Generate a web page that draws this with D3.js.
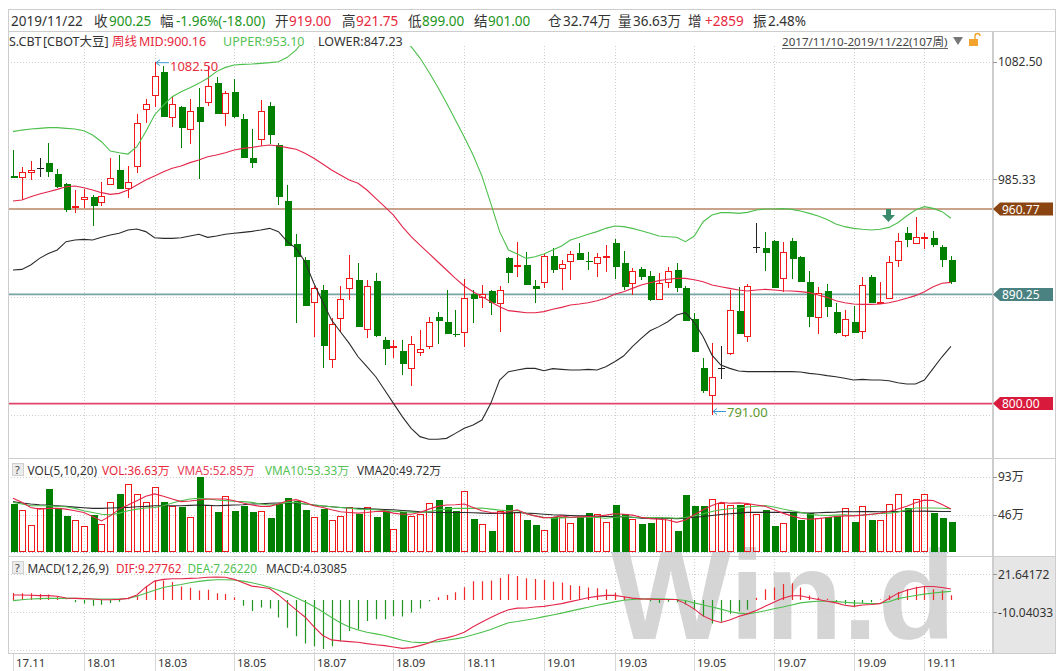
<!DOCTYPE html>
<html>
<head>
<meta charset="utf-8">
<script src="https://cdn.jsdelivr.net/npm/d3@7"></script>
<style>
body { margin: 0; background: #fff; }
svg { display: block; font-family: "Noto Sans", "Noto Sans CJK SC", sans-serif; }
</style>
</head>
<body>
<div id="chart"></div>
<script>
// weekly CBOT soybean bars, 2017/11/10 - 2019/11/22 (107 weeks)
const openPx = [
	988.3, 987.5, 991.1, 994.4, 998.5, 989.7, 981.4, 962.7, 968.8, 971.0,
	966.3, 981.4, 993.0, 977.9, 996.6, 1043.1, 1055.0, 1074.3, 1036.5, 1045.4,
	1026.9, 1045.4, 1049.5, 1065.2, 1039.8, 1057.7, 1035.2, 1002.7, 1018.3, 1045.9,
	1013.7, 967.4, 931.9, 918.7, 883.7, 893.9, 836.6, 870.4, 895.2, 902.1,
	861.4, 901.3, 852.5, 847.3, 843.5, 829.1, 842.9, 847.9, 871.3, 867.7,
	857.8, 859.4, 890.6, 887.8, 893.3, 883.4, 920.0, 913.7, 914.5, 897.2,
	900.7, 921.9, 911.7, 917.8, 924.7, 918.1, 916.4, 921.7, 932.4, 915.9,
	899.9, 910.9, 905.4, 886.2, 900.7, 910.4, 895.2, 869.6, 829.7, 807.1,
	829.7, 841.5, 876.5, 855.8, 929.7, 928.3, 934.6, 903.5, 934.6, 921.4,
	900.7, 871.8, 893.0, 876.0, 856.7, 867.1, 860.0, 904.9, 883.4, 887.0,
	918.6, 941.2, 932.4, 937.1, 936.5, 929.7, 919.0
];
const highPx = [
	1009.5, 995.8, 1000.4, 1002.7, 1015.0, 993.6, 982.0, 976.5, 977.0, 972.4,
	983.4, 1002.7, 1005.4, 996.3, 1039.3, 1051.4, 1082.5, 1078.9, 1054.1, 1045.9,
	1051.4, 1060.5, 1078.9, 1069.6, 1058.6, 1067.9, 1039.3, 1026.6, 1050.9, 1049.5,
	1015.0, 980.6, 940.1, 921.4, 897.0, 898.0, 870.4, 897.2, 922.8, 915.9,
	902.1, 907.6, 855.3, 852.5, 852.5, 856.1, 860.8, 871.3, 876.0, 893.9,
	877.3, 902.7, 893.9, 898.0, 893.9, 897.2, 921.4, 933.8, 925.5, 902.1,
	924.2, 928.3, 918.6, 926.4, 932.4, 925.5, 924.2, 931.0, 935.7, 926.1,
	911.8, 912.6, 909.8, 908.2, 913.2, 916.4, 897.2, 874.6, 837.4, 849.8,
	847.9, 893.9, 896.1, 898.8, 948.9, 942.1, 935.2, 933.3, 937.1, 922.0,
	909.8, 896.1, 898.5, 882.8, 877.3, 880.6, 904.9, 906.3, 900.7, 922.0,
	940.7, 946.2, 953.9, 941.2, 942.9, 931.0, 921.75
];
const lowPx = [
	986.1, 968.2, 984.7, 987.5, 987.5, 977.9, 958.6, 957.2, 961.3, 946.7,
	963.3, 981.4, 977.3, 969.6, 990.8, 1032.1, 1045.4, 1037.1, 1028.3, 1010.9,
	1014.2, 985.3, 1045.9, 1039.3, 1029.4, 1035.7, 1002.7, 994.4, 1012.8, 1014.5,
	964.1, 930.2, 866.9, 880.9, 855.3, 829.1, 829.1, 859.4, 885.6, 863.6,
	853.9, 855.3, 831.9, 837.4, 823.6, 814.8, 839.3, 845.1, 849.0, 857.2,
	854.7, 847.0, 866.9, 879.3, 873.2, 859.4, 899.4, 904.9, 898.0, 882.8,
	895.2, 907.6, 893.9, 902.1, 918.6, 910.4, 904.9, 909.0, 902.7, 893.9,
	889.7, 902.1, 885.0, 886.2, 895.2, 892.5, 868.5, 842.9, 809.0, 791.0,
	820.0, 840.2, 857.2, 850.6, 924.7, 909.8, 895.2, 892.5, 902.7, 900.2,
	863.0, 857.2, 871.8, 857.2, 854.7, 858.6, 853.1, 883.4, 883.4, 886.2,
	912.6, 929.7, 932.4, 927.5, 929.1, 912.6, 899.0
];
const closePx = [
	986.1, 991.1, 993.0, 994.4, 991.1, 978.7, 960.0, 963.5, 971.0, 963.5,
	971.5, 986.1, 977.3, 983.4, 1032.1, 1047.3, 1070.7, 1037.1, 1047.3, 1027.4,
	1042.0, 1032.4, 1062.7, 1039.3, 1056.9, 1037.1, 1002.7, 999.1, 1041.8, 1021.9,
	970.4, 930.2, 920.9, 880.9, 895.2, 847.6, 865.8, 886.1, 903.5, 863.6,
	897.2, 855.9, 845.1, 847.9, 832.4, 848.9, 844.8, 867.7, 868.5, 857.2,
	856.9, 887.0, 886.2, 890.3, 882.8, 893.9, 907.6, 914.5, 898.0, 894.7,
	921.9, 910.4, 915.3, 923.3, 918.6, 916.7, 920.9, 922.2, 913.2, 896.1,
	909.8, 904.9, 885.6, 899.9, 909.8, 895.2, 868.5, 842.9, 810.4, 822.2,
	829.7, 877.3, 857.2, 897.2, 929.7, 924.2, 895.8, 925.5, 919.2, 900.2,
	871.8, 891.1, 880.1, 858.0, 869.6, 858.6, 898.0, 883.4, 884.2, 917.3,
	934.6, 935.2, 937.9, 937.6, 931.0, 918.25, 900.25
];

// bollinger bands (20)
const bollMid = [
	967.4, 968.2, 970.9, 973.2, 975.1, 977.0, 979.2, 979.8, 978.4, 976.5,
	974.3, 972.9, 973.7, 976.5, 980.6, 984.7, 988.1, 991.6, 994.4, 996.3,
	999.1, 1001.3, 1004.0, 1005.4, 1007.3, 1009.5, 1010.9, 1011.7, 1012.8, 1013.7,
	1012.8, 1011.5, 1010.1, 1006.8, 1002.7, 998.0, 993.0, 988.9, 984.7, 982.0,
	976.5, 969.6, 962.7, 955.8, 946.2, 937.9, 931.0, 924.2, 917.2, 910.4,
	903.5, 897.2, 892.5, 888.4, 884.2, 880.1, 876.8, 876.0, 875.1, 875.1,
	876.0, 877.9, 879.5, 881.5, 882.3, 883.4, 885.0, 887.0, 890.3, 892.5,
	895.2, 898.0, 899.9, 901.6, 902.7, 903.5, 903.5, 902.4, 900.7, 898.0,
	896.6, 895.2, 893.9, 893.0, 893.9, 894.4, 893.9, 893.3, 893.0, 892.5,
	891.7, 889.7, 887.8, 885.0, 883.4, 882.3, 882.0, 882.0, 882.3, 883.4,
	885.0, 887.0, 889.2, 892.5, 896.6, 899.4, 900.16
];
const bollUpper = [
	1024.7, 1026.0, 1026.9, 1027.4, 1028.0, 1028.0, 1027.4, 1026.9, 1025.5, 1021.9,
	1016.4, 1008.7, 1007.3, 1006.2, 1012.3, 1024.7, 1038.5, 1046.7, 1053.6, 1057.7,
	1061.0, 1064.6, 1068.8, 1074.3, 1077.8, 1079.8, 1080.3, 1080.6, 1081.1, 1081.7,
	1082.5, 1086.1, 1092.2, 1102.0, 1110.0, 1118.0, 1124.0, 1128.0, 1130.0, 1130.0,
	1128.0, 1124.0, 1118.0, 1110.0, 1102.0, 1094.9, 1085.5, 1074.0, 1061.6, 1048.4,
	1034.3, 1020.3, 1005.4, 988.0, 965.5, 942.1, 926.9, 923.6, 920.0, 921.4,
	923.6, 926.9, 930.2, 935.2, 937.4, 939.9, 942.1, 944.8, 946.7, 946.2,
	944.8, 942.9, 940.7, 938.5, 937.9, 937.4, 933.8, 938.5, 950.3, 955.8,
	957.8, 957.8, 957.2, 958.0, 960.0, 960.8, 960.8, 961.1, 960.5, 959.1,
	957.2, 955.0, 952.2, 948.4, 946.2, 944.8, 944.0, 943.4, 944.0, 945.6,
	949.5, 955.0, 960.0, 962.7, 961.3, 958.6, 953.10
];
const bollLower = [
	910.4, 910.9, 914.5, 920.0, 924.1, 926.9, 933.8, 935.2, 935.7, 935.2,
	937.4, 939.3, 940.7, 943.4, 944.3, 942.1, 937.1, 936.5, 936.5, 937.1,
	938.5, 939.9, 937.4, 938.5, 939.9, 940.7, 941.5, 942.3, 943.4, 944.8,
	942.1, 933.8, 928.3, 917.3, 899.4, 884.2, 869.1, 859.4, 849.8, 838.7,
	830.5, 822.2, 811.2, 800.2, 789.2, 779.6, 772.7, 770.5, 770.5, 771.3,
	775.4, 779.6, 782.3, 786.4, 800.2, 819.5, 826.4, 827.8, 829.1, 829.1,
	827.2, 828.9, 828.3, 827.8, 827.8, 828.3, 827.8, 830.5, 834.6, 839.3,
	847.0, 853.9, 860.2, 863.6, 867.7, 873.2, 875.1, 867.0, 855.3, 840.1,
	831.9, 829.1, 826.9, 826.4, 826.4, 826.4, 826.4, 826.4, 826.4, 826.1,
	825.0, 824.2, 823.1, 822.2, 820.9, 819.5, 820.0, 819.5, 819.5, 818.9,
	817.3, 816.2, 816.2, 819.5, 829.1, 838.7, 847.23
];

// volume in 万 lots and its moving averages
const volume = [
	58.7, 51.6, 33.0, 53.7, 77.4, 53.7, 44.2, 39.2, 31.7, 45.4,
	34.2, 61.2, 71.1, 83.6, 71.5, 61.2, 79.8, 61.2, 57.0, 54.8,
	43.0, 92.7, 57.8, 49.4, 69.5, 50.6, 56.9, 49.4, 50.6, 42.2,
	59.0, 66.2, 62.4, 51.9, 43.0, 52.7, 39.3, 44.3, 54.8, 46.4,
	54.8, 43.0, 50.6, 28.3, 48.5, 44.3, 46.4, 59.9, 64.1, 55.7,
	50.6, 74.6, 40.9, 33.8, 25.4, 50.6, 57.8, 49.4, 39.2, 32.8,
	26.5, 43.5, 43.5, 35.0, 43.5, 47.7, 46.9, 36.2, 58.3, 46.9,
	40.1, 33.7, 35.0, 43.5, 41.3, 25.6, 69.8, 57.1, 57.1, 65.6,
	60.5, 58.3, 58.3, 59.2, 46.9, 51.1, 31.6, 35.8, 47.7, 39.2,
	47.7, 41.3, 43.5, 44.3, 54.1, 37.1, 57.1, 39.2, 39.2, 59.6,
	71.1, 54.1, 64.7, 71.1, 47.7, 41.3, 36.63
];
const vma5 = [
	66.2, 61.1, 54.8, 52.7, 53.6, 53.6, 52.7, 50.6, 48.5, 43.5,
	38.0, 44.3, 52.7, 57.8, 63.2, 68.7, 71.6, 68.7, 65.3, 62.0,
	62.8, 64.1, 65.3, 65.3, 65.3, 63.2, 60.3, 57.8, 56.1, 56.1,
	59.0, 63.2, 64.5, 61.1, 56.9, 54.8, 51.9, 49.4, 48.5, 47.7,
	48.5, 49.8, 50.2, 47.7, 46.4, 46.4, 48.5, 52.7, 56.1, 57.8,
	58.2, 59.0, 54.8, 50.6, 48.5, 47.7, 49.4, 51.9, 46.9, 44.3,
	41.8, 42.6, 44.3, 42.6, 43.0, 43.5, 43.9, 45.2, 46.9, 46.4,
	45.2, 42.6, 40.9, 40.1, 39.2, 36.2, 39.2, 45.6, 52.0, 57.1,
	61.3, 60.0, 60.5, 59.6, 57.9, 56.2, 52.0, 47.7, 44.3, 41.3,
	40.1, 40.9, 42.2, 43.5, 44.3, 44.3, 45.2, 46.4, 47.7, 49.8,
	52.8, 56.2, 60.5, 63.9, 63.4, 58.3, 52.85
];
const vma10 = [
	61.1, 59.0, 56.9, 56.9, 56.9, 56.1, 55.7, 53.6, 50.6, 48.5,
	46.4, 45.6, 47.7, 50.6, 52.7, 54.0, 54.8, 56.9, 60.3, 63.2,
	65.3, 66.2, 65.3, 64.1, 63.2, 62.4, 62.0, 61.1, 59.0, 57.8,
	59.0, 61.1, 61.1, 59.0, 57.8, 56.9, 55.7, 54.8, 54.0, 52.7,
	52.3, 51.9, 51.0, 50.2, 49.4, 48.9, 48.5, 49.4, 51.5, 52.7,
	53.6, 53.6, 53.6, 54.0, 52.7, 51.5, 50.6, 51.0, 46.9, 44.3,
	42.6, 41.3, 41.8, 42.2, 42.6, 42.6, 42.2, 41.3, 42.6, 43.5,
	42.6, 42.2, 42.2, 42.2, 41.8, 41.3, 42.2, 44.3, 46.9, 49.8,
	52.0, 53.2, 54.1, 55.4, 56.2, 57.1, 55.4, 52.8, 50.7, 48.6,
	46.4, 45.2, 44.7, 45.2, 45.6, 44.7, 45.2, 46.4, 47.3, 47.7,
	49.0, 52.0, 54.1, 54.1, 54.1, 53.7, 53.33
];
const vma20 = [
	62.0, 60.3, 59.0, 58.2, 57.8, 56.9, 56.1, 55.2, 54.4, 53.6,
	53.6, 54.0, 54.4, 54.8, 55.7, 56.1, 56.9, 56.9, 56.9, 56.9,
	57.3, 57.8, 57.3, 56.9, 57.3, 57.8, 58.2, 59.0, 59.4, 59.9,
	60.3, 60.3, 60.3, 59.0, 57.8, 56.5, 55.7, 54.8, 54.0, 53.6,
	53.1, 52.7, 52.3, 51.9, 51.0, 50.2, 49.4, 48.9, 48.5, 48.5,
	48.5, 48.5, 48.1, 47.7, 47.3, 47.3, 47.7, 48.5, 47.7, 47.3,
	46.4, 45.6, 45.2, 44.7, 44.3, 44.3, 43.9, 43.5, 43.5, 43.0,
	42.6, 41.3, 41.3, 41.3, 41.3, 40.9, 41.3, 42.6, 43.5, 44.7,
	46.0, 46.9, 47.7, 48.6, 48.6, 48.6, 48.6, 48.6, 48.6, 48.1,
	47.7, 48.1, 48.6, 49.0, 49.8, 49.4, 49.8, 49.6, 49.4, 49.6,
	49.8, 50.0, 50.0, 50.2, 49.9, 49.8, 49.72
];

// MACD(12,26,9)
const dif = [
	4.3, 4.3, 4.0, 3.7, 3.7, 3.2, 1.7, 1.4, 1.2, 0.9,
	0.3, 0.3, 0.6, 1.4, 4.3, 10.8, 15.9, 17.4, 17.9, 17.9,
	18.2, 18.5, 19.1, 19.4, 19.1, 17.4, 14.5, 11.7, 10.8, 9.7,
	4.3, -1.9, -8.2, -14.2, -22.4, -29.8, -33.5, -34.3, -34.9, -35.5,
	-36.6, -37.5, -38.3, -39.5, -40.6, -40.0, -38.3, -36.1, -33.2, -31.8,
	-29.8, -27.0, -22.4, -18.4, -14.7, -11.0, -8.2, -6.8, -6.7, -5.9,
	-5.3, -4.1, -3.0, -1.3, 0.2, 1.9, 3.1, 3.9, 3.9, 2.8,
	1.6, 1.0, 0.8, 0.5, 0.5, 0.5, -3.0, -7.6, -13.3, -16.8,
	-18.8, -16.8, -13.9, -11.6, -8.7, -5.3, -1.8, 1.6, 3.6, 3.6,
	1.9, 0.5, -1.0, -2.4, -4.4, -5.3, -4.1, -3.8, -3.0, 1.3,
	5.6, 8.2, 10.2, 11.4, 11.4, 10.5, 9.27762
];
const dea = [
	-0.5, 0.3, 0.9, 1.2, 1.4, 1.4, 1.4, 1.4, 1.2, 0.9,
	0.9, 0.9, 0.9, 1.4, 3.2, 5.7, 8.3, 10.5, 12.0, 13.1,
	14.5, 15.7, 16.5, 17.1, 17.1, 16.8, 15.9, 14.5, 12.8, 10.8,
	8.3, 5.4, 2.0, -1.4, -5.4, -9.9, -14.7, -19.0, -22.7, -25.2,
	-27.0, -28.4, -29.8, -31.8, -33.8, -35.2, -35.8, -35.5, -34.9, -33.8,
	-32.6, -31.2, -29.2, -27.0, -24.7, -21.8, -19.0, -18.0, -16.8, -15.5,
	-13.9, -12.5, -11.0, -9.3, -7.6, -6.1, -4.4, -3.0, -1.5, -0.1,
	0.5, 1.0, 1.0, 1.0, 0.8, 0.5, -0.4, -2.4, -4.1, -5.8,
	-7.6, -9.6, -11.0, -11.6, -10.4, -9.0, -7.3, -5.8, -4.1, -2.4,
	-1.5, -1.0, -1.0, -1.3, -1.8, -2.4, -2.7, -3.0, -2.7, -1.5,
	1.2, 2.5, 3.8, 5.0, 5.9, 6.7, 7.26220
];
const macdBar = [
	6.0, 5.7, 5.7, 5.1, 4.6, 3.2, 0.3, -1.9, -2.8, -4.8,
	-4.0, -2.5, -1.4, 0.2, 3.7, 11.7, 16.5, 16.5, 15.1, 11.4,
	10.3, 8.0, 8.6, 5.7, 5.1, 2.3, -4.8, -9.1, -6.2, -7.1,
	-14.7, -23.3, -30.4, -36.6, -38.9, -41.2, -38.9, -34.6, -26.1, -24.7,
	-17.6, -16.2, -16.2, -13.3, -13.9, -10.5, -7.1, -1.1, 2.3, 4.3,
	6.6, 10.8, 15.7, 15.9, 16.5, 18.5, 21.64, 20.2, 18.3, 17.7,
	17.1, 15.4, 14.8, 12.5, 11.9, 10.5, 9.9, 9.1, 6.2, 2.8,
	1.3, 0.5, -1.0, -2.4, -1.5, -1.8, -3.8, -8.1, -13.9, -19.6,
	-18.2, -11.6, -9.6, -8.1, 2.0, 9.0, 10.5, 13.4, 14.2, 10.5,
	3.9, 1.9, 1.0, -1.8, -3.8, -5.3, -2.4, -1.8, 0.5, 3.9,
	6.8, 9.1, 11.1, 11.4, 9.1, 8.2, 4.03085
];

const monthLabels = ["17.11", "18.01", "18.03", "18.05", "18.07", "18.09", "18.11", "19.01", "19.03", "19.05", "19.07", "19.09", "19.11"];
const monthWeek = [0, 8, 16, 25, 34, 43, 51, 60, 68, 77, 86, 95, 103];
const priceGrid = [1082.5, 985.33, 888.17, 791.0];
const priceLabels = ["1082.50", "985.33"];
const markValues = [960.77, 890.25, 800.0];
const markLabels = ["960.77", "890.25", "800.00"];
const volTicks = [93, 46];
const volLabels = ["93万", "46万"];
const macdGrid = [21.64172, -10.04033, -41.72238];
const macdLabels = ["21.64172", "-10.04033"];
const highWeek = 16, lowWeek = 79;

const RED = "#f01818";
const GREEN = "#008000";
const LINE_RED = "#e3264a";
const LINE_GREEN = "#4cbf4c";
const GRID = "#cfcfcf";
const BORDER = "#cdcdcd";
const FONT = "'Noto Sans', 'Noto Sans CJK SC', sans-serif";

const width = 1056, height = 671;
const left = 8, right = 1055, axisX = 993;
const price = { top: 31.5, bottom: 458.5 };
const vol = { top: 458.5, bottom: 556.5 };
const macd = { top: 556.5, bottom: 653.5 };

const svg = d3.select("#chart").append("svg").attr("width", width).attr("height", height);

const xScale = d3.scaleLinear().domain([0, openPx.length - 1]).range([13, 950.9]);
const yPrice = d3.scaleLinear().domain([791, 1082.5]).range([414.5, 61.7]);
const yVol = d3.scaleLinear().domain([0, 93]).range([551.5, 476.7]);
const yMacd = d3.scaleLinear().domain([-10.04033, 21.64172]).range([612, 574.3]);

const defs = svg.append("defs");
defs.append("clipPath").attr("id", "clip-price")
	.append("rect").attr("x", left).attr("y", 46).attr("width", axisX - left).attr("height", price.bottom - 46);
defs.append("clipPath").attr("id", "clip-macd")
	.append("rect").attr("x", left).attr("y", macd.top).attr("width", axisX - left).attr("height", macd.bottom - macd.top);

// grey axis box of the macd panel
svg.append("rect").attr("x", axisX).attr("y", macd.top).attr("width", right - axisX).attr("height", macd.bottom - macd.top).attr("fill", "#e6e6e6");

// wind watermark
svg.append("text")
	.attr("x", 611).attr("y", 639)
	.style("font-family", "'Liberation Sans', Arial, sans-serif")
	.style("font-weight", "700")
	.style("font-size", "127px")
	.style("fill", "#d5d5d5")
	.text("Win.d");

// grid lines
const grid = svg.append("g").attr("stroke", GRID).attr("stroke-dasharray", "1,2").attr("shape-rendering", "crispEdges");
monthWeek.slice(1).forEach(w => {
	const x = Math.round(xScale(w)) + 0.5;
	grid.append("line").attr("x1", x).attr("x2", x).attr("y1", 46).attr("y2", macd.bottom);
});
priceGrid.forEach(v => {
	const y = Math.round(yPrice(v)) + 0.5;
	grid.append("line").attr("x1", left).attr("x2", axisX).attr("y1", y).attr("y2", y);
});
volTicks.forEach(v => {
	const y = Math.round(yVol(v)) + 0.5;
	grid.append("line").attr("x1", left).attr("x2", axisX).attr("y1", y).attr("y2", y);
});
macdGrid.forEach(v => {
	const y = Math.round(yMacd(v)) + 0.5;
	grid.append("line").attr("x1", left).attr("x2", axisX).attr("y1", y).attr("y2", y);
});
svg.append("line")
	.attr("x1", left).attr("x2", 950).attr("y1", Math.round(yVol(0)) + 0.5).attr("y2", Math.round(yVol(0)) + 0.5)
	.attr("stroke", "#8fc3e0").attr("stroke-dasharray", "1,2");

// x axis tick lines under the frame
monthWeek.forEach(w => {
	const x = Math.round(xScale(w)) + 0.5;
	svg.append("line").attr("x1", x).attr("x2", x).attr("y1", macd.bottom).attr("y2", height)
		.attr("stroke", "#d8d8d8");
});

// marked price lines
const markColors = ["#b98466", "#78a3a3", "#e14468"];
const tagColors = ["#8b4513", "#4a8282", "#d81b3c"];
markValues.forEach((v, k) => {
	svg.append("line")
		.attr("x1", left).attr("x2", axisX)
		.attr("y1", yPrice(v)).attr("y2", yPrice(v))
		.attr("stroke", markColors[k]).attr("stroke-width", 1.6);
});

// candles
const pricePlot = svg.append("g").attr("clip-path", "url(#clip-price)");
const candles = pricePlot.append("g").attr("shape-rendering", "crispEdges");
openPx.forEach((o, i) => {
	const c = closePx[i];
	const cx = Math.round(xScale(i));
	const yH = Math.round(yPrice(highPx[i]));
	const yL = Math.round(yPrice(lowPx[i]));
	const yO = Math.round(yPrice(o));
	const yC = Math.round(yPrice(c));
	if (c > o) {
		candles.append("line").attr("x1", cx + 0.5).attr("x2", cx + 0.5).attr("y1", yH).attr("y2", yC).attr("stroke", RED);
		candles.append("line").attr("x1", cx + 0.5).attr("x2", cx + 0.5).attr("y1", yO).attr("y2", yL).attr("stroke", RED);
		candles.append("rect")
			.attr("x", cx - 2.5).attr("y", yC + 0.5)
			.attr("width", 6).attr("height", Math.max(1, yO - yC))
			.attr("fill", "#fff").attr("stroke", RED);
	} else if (c < o) {
		candles.append("line").attr("x1", cx + 0.5).attr("x2", cx + 0.5).attr("y1", yH).attr("y2", yL).attr("stroke", GREEN);
		candles.append("rect")
			.attr("x", cx - 2.5).attr("y", yO)
			.attr("width", 7).attr("height", Math.max(1, yC - yO))
			.attr("fill", GREEN);
	} else {
		candles.append("line").attr("x1", cx + 0.5).attr("x2", cx + 0.5).attr("y1", yH).attr("y2", yL).attr("stroke", "#222");
		candles.append("line").attr("x1", cx - 3).attr("x2", cx + 4).attr("y1", yO + 0.5).attr("y2", yO + 0.5).attr("stroke", "#222");
	}
});

// bollinger lines
const priceLine = d3.line().x((d, i) => xScale(i)).y(d => yPrice(d));
[[bollUpper, LINE_GREEN], [bollMid, LINE_RED], [bollLower, "#2b2b2b"]].forEach(([data, color]) => {
	pricePlot.append("path").attr("d", priceLine(data)).attr("fill", "none").attr("stroke", color).attr("stroke-width", 1.1);
});

// high / low annotations
const hx = Math.round(xScale(highWeek)) + 1, hy = yPrice(highPx[highWeek]) + 1;
svg.append("path").attr("d", `M${hx},${hy} H${hx + 13} M${hx + 4},${hy - 3} L${hx},${hy} L${hx + 4},${hy + 3}`)
	.attr("fill", "none").attr("stroke", "#3d9ad6");
svg.append("text").attr("x", hx + 14).attr("y", hy + 8)
	.style("font-family", FONT).style("font-size", "13px").style("fill", "#e8303c")
	.text(highPx[highWeek].toFixed(2));
const lx = Math.round(xScale(lowWeek)) + 1, ly = yPrice(lowPx[lowWeek]) - 3;
svg.append("path").attr("d", `M${lx},${ly} H${lx + 13} M${lx + 4},${ly - 3} L${lx},${ly} L${lx + 4},${ly + 3}`)
	.attr("fill", "none").attr("stroke", "#3d9ad6");
svg.append("text").attr("x", lx + 14).attr("y", ly + 5)
	.style("font-family", FONT).style("font-size", "13px").style("fill", "#5c9a2c")
	.text(lowPx[lowWeek].toFixed(2));

// down arrow marker near the upper band
svg.append("path")
	.attr("d", "M886,209 h5 v6 h4 l-6.5,7 l-6.5,-7 h4 z")
	.attr("fill", "#3a8a6c");

// volume bars
const volBars = svg.append("g").attr("shape-rendering", "crispEdges");
volume.forEach((v, i) => {
	const cx = Math.round(xScale(i));
	const y = Math.round(yVol(v));
	const base = Math.round(yVol(0));
	if (closePx[i] >= openPx[i]) {
		volBars.append("rect").attr("x", cx - 2.5).attr("y", y + 0.5).attr("width", 6).attr("height", base - y - 1)
			.attr("fill", "none").attr("stroke", RED);
	} else {
		volBars.append("rect").attr("x", cx - 2.5).attr("y", y).attr("width", 7).attr("height", base - y)
			.attr("fill", GREEN);
	}
});
const volLine = d3.line().x((d, i) => xScale(i)).y(d => yVol(d));
[[vma20, "#2b2b2b"], [vma10, LINE_GREEN], [vma5, LINE_RED]].forEach(([data, color]) => {
	svg.append("path").attr("d", volLine(data)).attr("fill", "none").attr("stroke", color).attr("stroke-width", 1.1);
});

// macd
const macdPlot = svg.append("g").attr("clip-path", "url(#clip-macd)");
macdBar.forEach((v, i) => {
	const x = Math.round(xScale(i)) + 0.5;
	macdPlot.append("line")
		.attr("x1", x).attr("x2", x)
		.attr("y1", yMacd(0)).attr("y2", yMacd(v))
		.attr("stroke", v >= 0 ? "#f02a2a" : "#1f961f")
		.attr("stroke-width", 1.2);
});
const macdLine = d3.line().x((d, i) => xScale(i)).y(d => yMacd(d));
[[dea, LINE_GREEN], [dif, LINE_RED]].forEach(([data, color]) => {
	macdPlot.append("path").attr("d", macdLine(data)).attr("fill", "none").attr("stroke", color).attr("stroke-width", 1.1);
});

// frame
const frame = svg.append("g").attr("stroke", BORDER).attr("shape-rendering", "crispEdges");
[9.5, price.top, vol.top, vol.bottom, macd.bottom].forEach(y => {
	frame.append("line").attr("x1", left).attr("x2", right + 1).attr("y1", Math.floor(y) + 0.5).attr("y2", Math.floor(y) + 0.5);
});
[left + 0.5, right + 0.5].forEach(x => {
	frame.append("line").attr("x1", x).attr("x2", x).attr("y1", 9.5).attr("y2", macd.bottom);
});
frame.append("line").attr("x1", axisX - 0.5).attr("x2", axisX - 0.5).attr("y1", price.top).attr("y2", macd.bottom).attr("stroke-width", 2);

// right axis labels
const axisText = (y, txt) => {
	svg.append("line").attr("x1", axisX).attr("x2", axisX + 4).attr("y1", Math.round(y) + 0.5).attr("y2", Math.round(y) + 0.5).attr("stroke", "#999");
	svg.append("text").attr("x", axisX + 5).attr("y", y + 4.5)
		.style("font-family", FONT).style("font-size", "12px").style("fill", "#333").text(txt);
};
priceLabels.forEach((t, k) => axisText(yPrice(priceGrid[k]), t));
volLabels.forEach((t, k) => axisText(yVol(volTicks[k]), t));
macdLabels.forEach((t, k) => axisText(yMacd(macdGrid[k]), t));

// price tags on the axis
markValues.forEach((v, k) => {
	const y = yPrice(v);
	svg.append("path")
		.attr("d", `M${axisX},${y} L${axisX + 7},${y - 6.5} H${right - 2} V${y + 6.5} H${axisX + 7} Z`)
		.attr("fill", tagColors[k]);
	svg.append("text").attr("x", axisX + 9).attr("y", y + 4.5)
		.style("font-family", FONT).style("font-size", "12px").style("fill", "#fff").text(markLabels[k]);
});

// x axis labels
monthLabels.forEach((t, k) => {
	svg.append("text").attr("x", Math.round(xScale(monthWeek[k])) + 3).attr("y", 667)
		.style("font-family", FONT).style("font-size", "11.5px").style("fill", "#333").text(t);
});

// header texts
const addText = (x, y, txt, color, size) =>
	svg.append("text").attr("x", x).attr("y", y)
		.style("font-family", FONT).style("font-size", size + "px").style("fill", color).text(txt);

const TXT = "#333", TRED = "#e8283c", TGREEN = "#1c961c", TLGREEN = "#55c255";
[
	[11, "2019/11/22", TXT], [94, "收", TXT], [109, "900.25", TGREEN], [160, "幅", TXT],
	[176, "-1.96%(-18.00)", TGREEN], [275, "开", TXT], [289, "919.00", TRED], [342, "高", TXT],
	[356, "921.75", TRED], [408, "低", TXT], [422, "899.00", TGREEN], [474, "结", TXT],
	[488, "901.00", TGREEN], [548, "仓", TXT], [563, "32.74万", TXT], [618, "量", TXT],
	[633, "36.63万", TXT], [688, "增", TXT], [705, "+2859", TRED], [753, "振", TXT], [768, "2.48%", TXT]
].forEach(([x, t, c]) => addText(x, 26, t, c, 13.5));

[
	[9, "S.CBT", TXT], [43, "[CBOT大豆]", TXT], [112, "周线", TRED], [139, "MID:900.16", TRED],
	[223, "UPPER:953.10", TLGREEN], [318, "LOWER:847.23", TXT]
].forEach(([x, t, c]) => addText(x, 46, t, c, 12.5));

addText(782, 46, "2017/11/10-2019/11/22(107周)", "#444", 11.6);
svg.append("line").attr("x1", 782).attr("x2", 948).attr("y1", 48.5).attr("y2", 48.5).attr("stroke", "#666");
svg.append("path").attr("d", "M953,37 H963 L958,45 Z").attr("fill", "#777");
svg.append("rect").attr("x", 969).attr("y", 39).attr("width", 9).attr("height", 7).attr("fill", "#f2a32b");
svg.append("path").attr("d", "M975,39 V36 A2.5,2.5 0 0 1 980,36").attr("fill", "none").attr("stroke", "#f2a32b").attr("stroke-width", 1.4);

// panel headers with the "?" boxes
const helpBox = y => {
	svg.append("rect").attr("x", 12.5).attr("y", y).attr("width", 11).attr("height", 12)
		.attr("fill", "#ececec").attr("stroke", "#cfcfcf");
	addText(15, y + 10, "?", "#444", 11);
};
helpBox(463.5);
[
	[27.5, "VOL(5,10,20)", TXT], [102, "VOL:36.63万", TRED], [177.5, "VMA5:52.85万", "#e8405a"],
	[265, "VMA10:53.33万", TLGREEN], [357, "VMA20:49.72万", TXT]
].forEach(([x, t, c]) => addText(x, 474.5, t, c, 11.8));
helpBox(561.5);
[
	[27.5, "MACD(12,26,9)", TXT], [116, "DIF:9.27762", TRED], [187.5, "DEA:7.26220", TLGREEN],
	[266, "MACD:4.03085", TXT]
].forEach(([x, t, c]) => addText(x, 572.5, t, c, 11.8));
</script>
</body>
</html>
